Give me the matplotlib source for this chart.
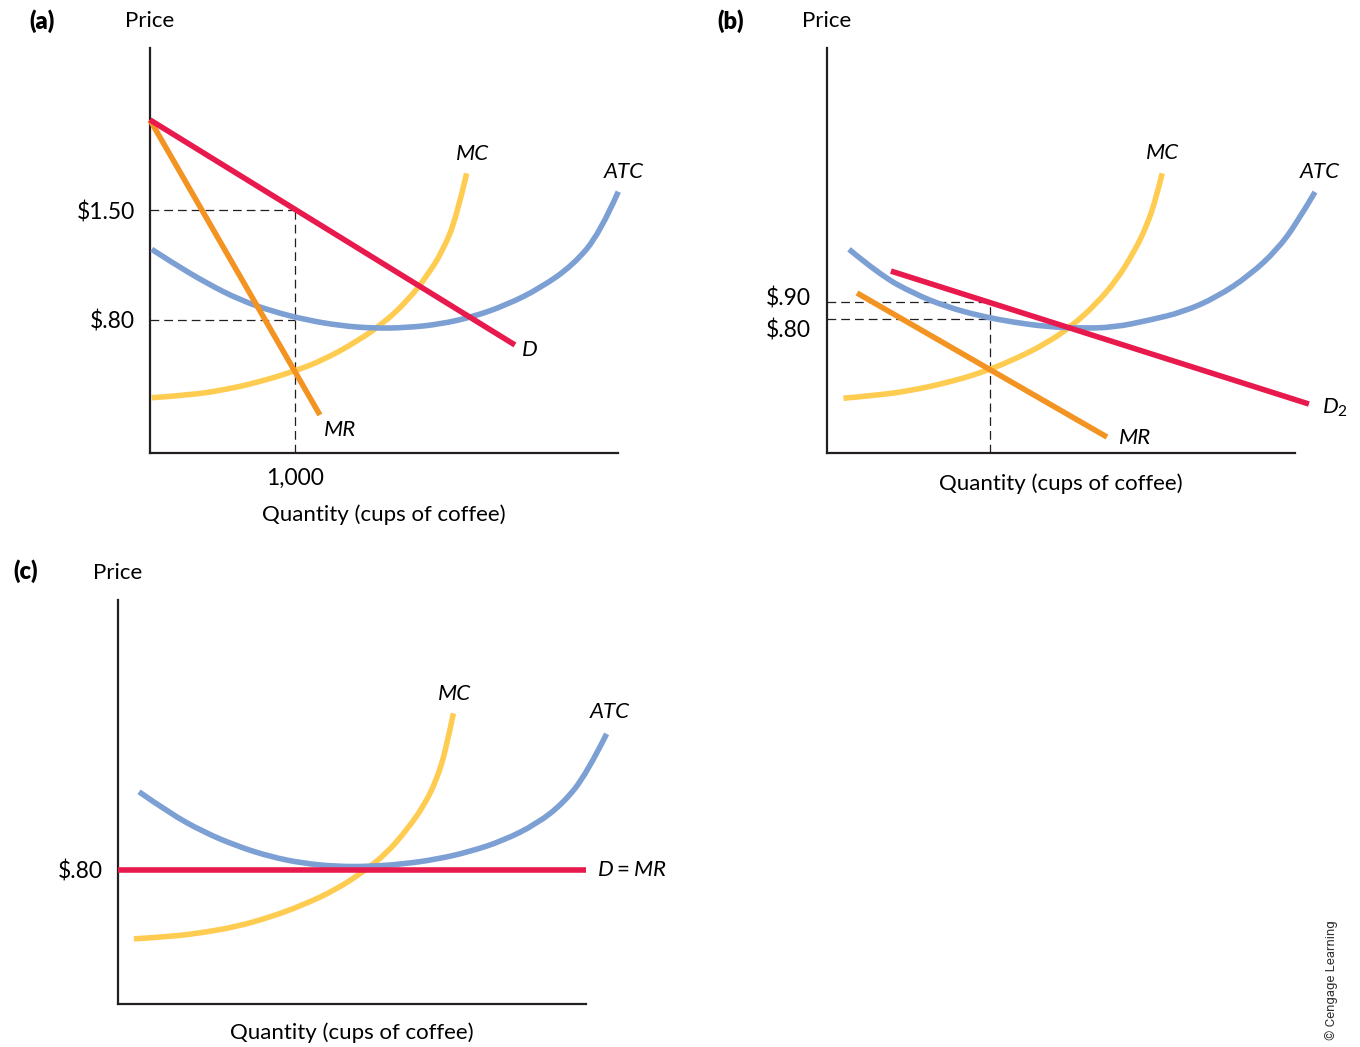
import matplotlib.pyplot as plt
from matplotlib.path import Path
from matplotlib.patches import PathPatch

plt.rcParams['font.family'] = ['Lato', 'DejaVu Sans']
plt.rcParams['mathtext.fontset'] = 'custom'
plt.rcParams['mathtext.rm'] = 'Lato'
plt.rcParams['mathtext.it'] = 'Lato:italic'

# colours
RED = '#E8194C'
ORANGE = '#F39322'
YELLOW = '#FFCC52'
BLUE = '#7C9FD4'

# ---- panel (a): price in $, quantity in cups
a_atc_q = [12, 161, 391, 621, 851, 1081, 1310, 1540, 1770, 2000, 2230, 2459, 2690, 2919, 3103, 3230]
a_atc_p = [1.250, 1.161, 1.034, 0.927, 0.853, 0.800, 0.764, 0.747, 0.751, 0.773, 0.821, 0.896,
           1.002, 1.150, 1.352, 1.617]
a_mc_q = [12, 276, 506, 736, 988, 1195, 1425, 1609, 1770, 1908, 2023, 2115, 2184]
a_mc_p = [0.305, 0.322, 0.354, 0.401, 0.471, 0.545, 0.662, 0.779, 0.917, 1.076, 1.246, 1.458, 1.734]
a_d_q = [0, 2517]
a_d_p = [2.074, 0.641]
a_mr_q = [0, 1172]
a_mr_p = [2.074, 0.195]
a_q_star = 1000
a_price = 1.50
a_atc_star = 0.80

# ---- panel (b)
b_atc_q = [152, 366, 595, 825, 1055, 1285, 1514, 1745, 1975, 2228, 2455, 2690, 2917, 3103, 3241, 3366]
b_atc_p = [1.210, 1.059, 0.951, 0.872, 0.818, 0.781, 0.755, 0.746, 0.750, 0.794, 0.841, 0.929,
           1.059, 1.206, 1.365, 1.547]
b_mc_q = [113, 366, 595, 825, 1055, 1285, 1514, 1698, 1860, 1997, 2112, 2204, 2273, 2312]
b_mc_p = [0.334, 0.353, 0.382, 0.425, 0.481, 0.559, 0.657, 0.765, 0.892, 1.029, 1.186, 1.343,
          1.519, 1.657]
b_d_q = [441, 3324]
b_d_p = [1.082, 0.300]
b_mr_q = [207, 1931]
b_mr_p = [0.953, 0.106]
b_q_star = 1124
b_price = 0.90
b_atc_star = 0.80

# ---- panel (c)
c_atc_q = [145, 359, 588, 818, 1048, 1278, 1508, 1738, 1968, 2198, 2428, 2657, 2887, 3071, 3232, 3370]
c_atc_p = [1.298, 1.160, 1.043, 0.953, 0.885, 0.842, 0.822, 0.822, 0.838, 0.868, 0.917, 0.987,
           1.093, 1.225, 1.412, 1.667]
c_mc_q = [110, 359, 588, 818, 1048, 1278, 1508, 1692, 1853, 1991, 2106, 2198, 2267, 2313]
c_mc_p = [0.361, 0.375, 0.401, 0.439, 0.499, 0.577, 0.677, 0.789, 0.906, 1.055, 1.203, 1.373,
          1.585, 1.798]
c_d_q = [0, 3228]
c_d_p = [0.80, 0.80]

W, H = 1360, 1047
fig = plt.figure(figsize=(W / 100, H / 100), dpi=100)

FS = 16
LW = 4


def panel(left, top, right, bottom, ylim, xlim=(0, 3228)):
    ax = fig.add_axes([left / W, 1 - bottom / H, (right - left) / W, (bottom - top) / H])
    ax.set_xlim(*xlim)
    ax.set_ylim(*ylim)
    for s in ['top', 'right']:
        ax.spines[s].set_visible(False)
    for s in ['left', 'bottom']:
        ax.spines[s].set_linewidth(1.6)
        ax.spines[s].set_color('#231F20')
    ax.set_xticks([])
    ax.set_yticks([])
    ax.patch.set_alpha(0)
    ax.annotate('Price', xy=(0, 1), xycoords='axes fraction', xytext=(0, 27),
                textcoords='offset pixels', ha='center', va='center', fontsize=FS)
    return ax


def line(ax, q, p, color, z):
    ax.plot(q, p, color=color, lw=LW, solid_capstyle='butt', clip_on=False, zorder=z)


def curve(ax, q, p, color, z):
    # smooth quadratic bezier path through the read points (midpoint scheme)
    pts = list(zip(q, p))
    verts = [pts[0]]
    codes = [Path.MOVETO]
    n = len(pts)
    for i in range(1, n - 1):
        if i < n - 2:
            end = ((pts[i][0] + pts[i + 1][0]) / 2, (pts[i][1] + pts[i + 1][1]) / 2)
        else:
            end = pts[n - 1]
        verts += [pts[i], end]
        codes += [Path.CURVE3, Path.CURVE3]
    patch = PathPatch(Path(verts, codes), fill=False, edgecolor=color, lw=LW,
                      capstyle='butt', clip_on=False, zorder=z)
    ax.add_patch(patch)


def dashed(ax, xs, ys):
    ax.plot(xs, ys, color='#231F20', lw=0.9, ls=(0, (7, 4)), zorder=1, clip_on=False)


def lab(ax, q, p, s):
    ax.text(q, p, s, fontsize=FS, style='italic', ha='center', va='center', clip_on=False)


def letter(x, y, s):
    fig.text(x / W, 1 - y / H, s, fontsize=17, fontweight='heavy', ha='center', va='center')


# (a)
ax = panel(150, 48, 618, 453, (-0.047, 2.532))
dashed(ax, [0, a_q_star], [a_price, a_price])
dashed(ax, [0, a_q_star], [a_atc_star, a_atc_star])
dashed(ax, [a_q_star, a_q_star], [-0.047, a_price])
curve(ax, a_mc_q, a_mc_p, YELLOW, 2)
curve(ax, a_atc_q, a_atc_p, BLUE, 3)
line(ax, a_mr_q, a_mr_p, ORANGE, 4)
line(ax, a_d_q, a_d_p, RED, 5)
ax.set_yticks([a_price, a_atc_star], ['$1.50', '$.80'], fontsize=FS + 0.5)
ax.set_xticks([a_q_star], ['1,000'], fontsize=FS + 0.5)
ax.tick_params(length=0, pad=11)
ax.annotate('Quantity (cups of coffee)', xy=(0.5, 0), xycoords='axes fraction', xytext=(0, -62),
            textcoords='offset pixels', ha='center', va='center', fontsize=FS)
lab(ax, 2221, 1.856, 'MC')
lab(ax, 3269, 1.743, 'ATC')
lab(ax, 1310, 0.099, 'MR')
lab(ax, 2621, 0.609, 'D')
letter(42, 21, '(a)')

# (b)
ax = panel(827, 48, 1295, 453, (0.012, 2.394))
dashed(ax, [0, b_q_star], [b_price, b_price])
dashed(ax, [0, b_q_star], [b_atc_star, b_atc_star])
dashed(ax, [b_q_star, b_q_star], [0.012, b_price])
curve(ax, b_mc_q, b_mc_p, YELLOW, 2)
curve(ax, b_atc_q, b_atc_p, BLUE, 3)
line(ax, b_mr_q, b_mr_p, ORANGE, 4)
line(ax, b_d_q, b_d_p, RED, 5)
ax.annotate('$.90', xy=(0, b_price), xytext=(-16, 4), textcoords='offset pixels',
            ha='right', va='center', fontsize=FS + 0.5)
ax.annotate('$.80', xy=(0, b_atc_star), xytext=(-16, -11), textcoords='offset pixels',
            ha='right', va='center', fontsize=FS + 0.5)
ax.annotate('Quantity (cups of coffee)', xy=(0.5, 0), xycoords='axes fraction', xytext=(0, -31),
            textcoords='offset pixels', ha='center', va='center', fontsize=FS)
lab(ax, 2317, 1.776, 'MC')
lab(ax, 3400, 1.665, 'ATC')
lab(ax, 2124, 0.100, 'MR')
lab(ax, 3500, 0.276, r'$D_{\mathrm{2}}$')
letter(731, 21, '(b)')

# (c)
ax = panel(118, 600, 586, 1004, (-0.054, 2.52))
curve(ax, c_mc_q, c_mc_p, YELLOW, 2)
curve(ax, c_atc_q, c_atc_p, BLUE, 3)
line(ax, c_d_q, c_d_p, RED, 5)
ax.set_yticks([0.80], ['$.80'], fontsize=FS + 0.5)
ax.tick_params(length=0, pad=11)
ax.annotate('Quantity (cups of coffee)', xy=(0.5, 0), xycoords='axes fraction', xytext=(0, -29),
            textcoords='offset pixels', ha='center', va='center', fontsize=FS)
lab(ax, 2324, 1.921, 'MC')
lab(ax, 3393, 1.806, 'ATC')
ax.text(3228, 0.80, '  $D = MR$', fontsize=FS, ha='left', va='center', clip_on=False)
letter(26, 571, '(c)')

fig.text(1331 / W, 1 - 980 / H, '© Cengage Learning', rotation=90, fontsize=9.5,
         family=['Roboto', 'DejaVu Sans'], color='#333333', ha='center', va='center')

fig.savefig('out.png', dpi=100)
